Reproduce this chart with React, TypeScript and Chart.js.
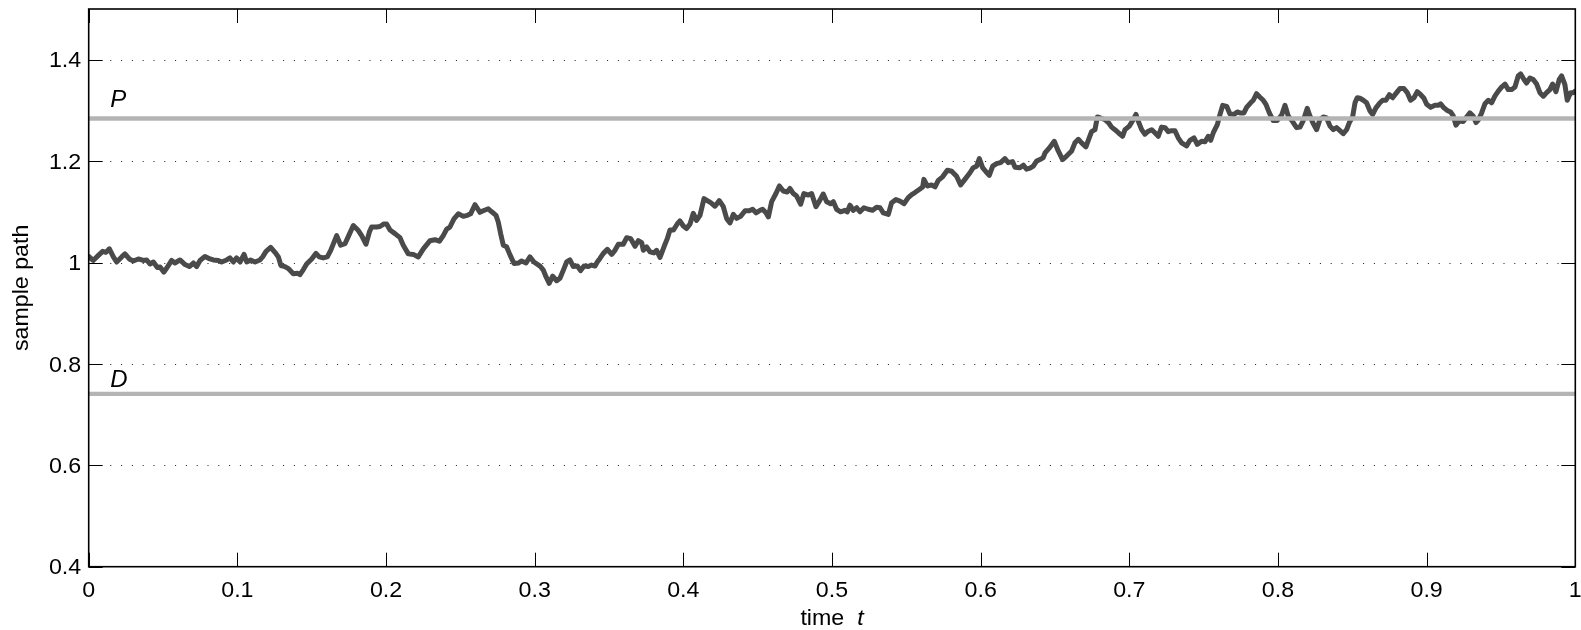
import React, { useEffect, useRef } from "react";
import { Chart, registerables } from "chart.js";

Chart.register(...registerables);

// ---- data ----
const xTicks = [0, 0.1, 0.2, 0.3, 0.4, 0.5, 0.6, 0.7, 0.8, 0.9, 1];
const xTickLabels = ["0", "0.1", "0.2", "0.3", "0.4", "0.5", "0.6", "0.7", "0.8", "0.9", "1"];
const yTicks = [0.4, 0.6, 0.8, 1, 1.2, 1.4];
const yTickLabels = ["0.4", "0.6", "0.8", "1", "1.2", "1.4"];
const yGridValues = [0.6, 0.8, 1, 1.2, 1.4];

const levelP = 1.284;
const levelD = 0.741;
const levelLabels = ["P", "D"];
const levelLabelX = [0.0145, 0.0145];
const levelLabelY = [1.3067, 0.755];

const xTitle = "time";
const xTitleVar = "t";
const yTitle = "sample path";

const pathTime = [
  0.0, 0.003, 0.0065, 0.0094, 0.0116, 0.0139, 0.0166, 0.0188, 0.0222, 0.0244,
  0.0273, 0.03, 0.0334, 0.0367, 0.039, 0.0412, 0.0435, 0.0462, 0.048, 0.0506,
  0.0529, 0.0558, 0.058, 0.0614, 0.0648, 0.0677, 0.0704, 0.0726, 0.0749, 0.0782,
  0.0816, 0.0838, 0.0872, 0.0894, 0.0928, 0.095, 0.0973, 0.0995, 0.1018, 0.1045,
  0.1063, 0.1089, 0.1119, 0.1152, 0.117, 0.1193, 0.1224, 0.1253, 0.1276, 0.1293,
  0.132, 0.1343, 0.1376, 0.1403, 0.1421, 0.1444, 0.1466, 0.15, 0.1529, 0.1551,
  0.1578, 0.1605, 0.1628, 0.1668, 0.1695, 0.1724, 0.1746, 0.178, 0.1814, 0.1836,
  0.1865, 0.1888, 0.1903, 0.1937, 0.1959, 0.1986, 0.2004, 0.2027, 0.206, 0.2094,
  0.2116, 0.215, 0.2184, 0.2217, 0.2251, 0.2296, 0.2329, 0.2359, 0.2385, 0.2408,
  0.243, 0.2457, 0.2486, 0.252, 0.2547, 0.2569, 0.2598, 0.2632,
  0.2654, 0.2688, 0.2711, 0.274, 0.2755, 0.2771, 0.2789, 0.2811, 0.2834, 0.2861,
  0.289, 0.2912, 0.2942, 0.2968, 0.2995, 0.3036, 0.3058, 0.3076, 0.3098, 0.3121,
  0.3148, 0.317, 0.3193, 0.3215, 0.3237, 0.326, 0.3287, 0.3309, 0.3332, 0.3361,
  0.3383, 0.3406, 0.3421, 0.3439, 0.3462, 0.3489, 0.3518, 0.354, 0.3563, 0.3596,
  0.3619, 0.3646, 0.3675, 0.3697, 0.372, 0.3731, 0.3753, 0.3776, 0.3802, 0.382,
  0.3843, 0.387, 0.3892, 0.391, 0.3933, 0.3959, 0.3977, 0.4, 0.4022, 0.4045,
  0.4067, 0.4089, 0.4112, 0.4139, 0.4161, 0.4184, 0.4213, 0.4242, 0.4269, 0.4291,
  0.4314, 0.4336, 0.4359, 0.4385, 0.4415, 0.4444, 0.4466, 0.4489, 0.4511, 0.4533,
  0.4556, 0.4572, 0.4594, 0.4623, 0.4646, 0.4672, 0.4699, 0.4717, 0.474, 0.4762,
  0.4789, 0.4811, 0.4841, 0.4863, 0.4892, 0.4919, 0.4941, 0.4964, 0.4991, 0.5009,
  0.5031, 0.5058, 0.5087, 0.5103, 0.5121, 0.5143, 0.5166, 0.5188,
  0.5215, 0.5244, 0.5273, 0.53, 0.5323, 0.5345, 0.5379, 0.5401, 0.543, 0.5457,
  0.5484, 0.5513, 0.5536, 0.5558, 0.5587, 0.561, 0.5618, 0.5641, 0.567, 0.5693,
  0.5715, 0.5744, 0.5776, 0.5805, 0.5838, 0.5865, 0.5894, 0.5928, 0.595, 0.5973,
  0.5991, 0.6013, 0.6036, 0.6058, 0.6081, 0.6107, 0.6134, 0.6163, 0.6186, 0.6215,
  0.6231, 0.6264, 0.6287, 0.6309, 0.6332, 0.6354, 0.6376, 0.6399, 0.6421, 0.6433,
  0.6462, 0.6495, 0.6522, 0.6551, 0.6578, 0.6612, 0.6634, 0.6657, 0.6679, 0.6708,
  0.6724, 0.6746, 0.6769, 0.6785, 0.6807, 0.6836, 0.6859, 0.6881, 0.6903, 0.6926,
  0.6955, 0.6971, 0.7, 0.7027, 0.7045, 0.706, 0.7083, 0.7105, 0.7128, 0.715,
  0.7172, 0.7195, 0.7217, 0.724, 0.7262, 0.7285, 0.7307, 0.7329, 0.7352, 0.7385,
  0.7408, 0.7435, 0.7457, 0.7486, 0.7509, 0.7531, 0.7547, 0.7565, 0.7592, 0.761,
  0.7628, 0.7655, 0.7677, 0.7704, 0.7726, 0.7744,
  0.7771, 0.7789, 0.7816, 0.7834, 0.7856, 0.7879, 0.7901, 0.7919, 0.7942, 0.7968,
  0.7995, 0.8025, 0.8047, 0.8069, 0.8098, 0.8125, 0.8148, 0.817, 0.8197, 0.8215,
  0.8237, 0.826, 0.8282, 0.8305, 0.8327, 0.835, 0.8372, 0.8394, 0.8417, 0.8439,
  0.8462, 0.848, 0.8502, 0.8518, 0.8533, 0.8551, 0.8574, 0.8596, 0.8619, 0.8637,
  0.8659, 0.8686, 0.8704, 0.8726, 0.8749, 0.8771, 0.8798, 0.882, 0.8847, 0.887,
  0.8892, 0.8915, 0.8937, 0.896, 0.8982, 0.9, 0.9027, 0.9056, 0.9078, 0.9094,
  0.9116, 0.9139, 0.9161, 0.9179, 0.9197, 0.9219, 0.9246, 0.9269, 0.9291, 0.9313,
  0.9332, 0.935, 0.937, 0.9392, 0.9415, 0.9437, 0.9459, 0.9482, 0.9504, 0.9527,
  0.9549, 0.9572, 0.9594, 0.9616, 0.9632, 0.9655, 0.9672, 0.9695, 0.9717, 0.974,
  0.9762, 0.9785, 0.9807, 0.9829, 0.9847, 0.987, 0.9892, 0.9908, 0.993, 0.9946,
  0.9968, 0.9986, 1.0,
];

const pathValue = [
  1.012, 1.004, 1.014, 1.022, 1.02, 1.027, 1.011, 1.001, 1.011, 1.017,
  1.007, 1.003, 1.007, 1.004, 1.005, 0.997, 1.001, 0.99, 0.991, 0.981,
  0.991, 1.004, 0.999, 1.005, 0.996, 0.992, 0.999, 0.992, 1.004, 1.012,
  1.007, 1.005, 1.004, 1.001, 1.005, 1.009, 1.001, 1.009, 1.001, 1.016,
  1.001, 1.005, 1.001, 1.005, 1.011, 1.022, 1.03, 1.02, 1.011, 0.994,
  0.992, 0.988, 0.978, 0.979, 0.976, 0.986, 0.997, 1.007, 1.018, 1.011,
  1.009, 1.011, 1.024, 1.053, 1.034, 1.037, 1.051, 1.073, 1.063, 1.053,
  1.036, 1.06, 1.07, 1.07, 1.071, 1.076, 1.076, 1.064, 1.057, 1.049,
  1.034, 1.017, 1.016, 1.011, 1.027, 1.043, 1.045, 1.042, 1.053, 1.066,
  1.07, 1.086, 1.096, 1.091, 1.093, 1.096, 1.114, 1.099,
  1.102, 1.106, 1.1, 1.093, 1.08, 1.057, 1.034, 1.031, 1.015, 0.998,
  0.999, 1.003, 0.999, 1.011, 1.001, 0.993, 0.985, 0.972, 0.959, 0.973,
  0.964, 0.969, 0.985, 1.001, 1.005, 0.992, 0.993, 0.984, 0.993, 0.992,
  0.995, 0.993, 1.001, 1.008, 1.018, 1.026, 1.016, 1.024, 1.036, 1.036,
  1.049, 1.047, 1.032, 1.043, 1.039, 1.024, 1.031, 1.021, 1.019, 1.024,
  1.01, 1.031, 1.047, 1.064, 1.064, 1.076, 1.082, 1.072, 1.067, 1.076,
  1.097, 1.083, 1.093, 1.126, 1.122, 1.118, 1.111, 1.122, 1.11, 1.087,
  1.078, 1.095, 1.087, 1.091, 1.102, 1.102, 1.105, 1.098, 1.102, 1.105,
  1.098, 1.09, 1.12, 1.136, 1.151, 1.141, 1.139, 1.146, 1.136, 1.131,
  1.115, 1.136, 1.133, 1.136, 1.11, 1.123, 1.135, 1.12, 1.116, 1.12,
  1.105, 1.1, 1.103, 1.1, 1.113, 1.103, 1.108, 1.1,
  1.108, 1.105, 1.103, 1.109, 1.108, 1.098, 1.095, 1.118, 1.124, 1.121,
  1.116, 1.128, 1.134, 1.138, 1.144, 1.149, 1.164, 1.151, 1.153, 1.149,
  1.162, 1.169, 1.182, 1.18, 1.17, 1.153, 1.164, 1.177, 1.187, 1.19,
  1.205, 1.187, 1.179, 1.172, 1.19, 1.195, 1.197, 1.205, 1.197, 1.199,
  1.188, 1.187, 1.192, 1.184, 1.186, 1.19, 1.2, 1.203, 1.207, 1.216,
  1.226, 1.239, 1.22, 1.203, 1.21, 1.22, 1.236, 1.243, 1.236, 1.228,
  1.241, 1.258, 1.262, 1.287, 1.285, 1.282, 1.276, 1.267, 1.262, 1.256,
  1.249, 1.262, 1.269, 1.282, 1.292, 1.279, 1.262, 1.253, 1.259, 1.262,
  1.256, 1.249, 1.267, 1.266, 1.258, 1.26, 1.26, 1.246, 1.236, 1.23,
  1.241, 1.246, 1.233, 1.239, 1.238, 1.249, 1.241, 1.256, 1.272, 1.292,
  1.31, 1.308, 1.293, 1.292, 1.297, 1.295,
  1.295, 1.306, 1.315, 1.32, 1.333, 1.326, 1.32, 1.312, 1.295, 1.28,
  1.28, 1.291, 1.31, 1.289, 1.278, 1.266, 1.267, 1.28, 1.304, 1.289,
  1.274, 1.262, 1.282, 1.287, 1.285, 1.269, 1.262, 1.266, 1.26, 1.254,
  1.262, 1.276, 1.287, 1.315, 1.325, 1.324, 1.32, 1.315, 1.299, 1.292,
  1.305, 1.315, 1.32, 1.32, 1.331, 1.325, 1.335, 1.343, 1.343, 1.335,
  1.32, 1.325, 1.337, 1.331, 1.324, 1.312, 1.306, 1.31, 1.31, 1.313,
  1.305, 1.3, 1.297, 1.289, 1.271, 1.279, 1.278, 1.287, 1.295, 1.289,
  1.276, 1.282, 1.295, 1.313, 1.32, 1.315, 1.328, 1.338, 1.346, 1.352,
  1.341, 1.341, 1.346, 1.368, 1.372, 1.361, 1.354, 1.364, 1.361, 1.352,
  1.335, 1.328, 1.335, 1.341, 1.352, 1.337, 1.361, 1.368, 1.351, 1.32,
  1.335, 1.335, 1.338,
];

// ---- styling ----
const FONT_FAMILY = '"Liberation Sans", Arial, Helvetica, sans-serif';
const TEXT_SIZE = 21.5;
const TEXT_STRETCH = 1.08;

function stretchedText(
  ctx: CanvasRenderingContext2D,
  text: string,
  x: number,
  y: number,
  align: CanvasTextAlign,
  font: string,
  stretch: number
) {
  ctx.save();
  ctx.translate(x, y);
  ctx.scale(stretch, 1);
  ctx.font = font;
  ctx.textAlign = align;
  ctx.textBaseline = "alphabetic";
  ctx.fillStyle = "#000";
  ctx.fillText(text, 0, 0);
  ctx.restore();
}

const decorPlugin = {
  id: "decor",
  beforeDatasetsDraw(chart: any) {
    const { ctx, chartArea: a, scales } = chart;
    const y = scales.y;
    ctx.save();
    ctx.strokeStyle = "#1a1a1a";
    ctx.lineWidth = 1;
    ctx.setLineDash([1, 9.8]);
    for (const v of yGridValues) {
      const py = Math.round(y.getPixelForValue(v)) + 0.5;
      ctx.beginPath();
      ctx.moveTo(a.left, py);
      ctx.lineTo(a.right, py);
      ctx.stroke();
    }
    ctx.restore();
  },
  afterDatasetsDraw(chart: any) {
    const { ctx, scales } = chart;
    for (let i = 0; i < levelLabels.length; i++) {
      const px = scales.x.getPixelForValue(levelLabelX[i]);
      const py = scales.y.getPixelForValue(levelLabelY[i]);
      stretchedText(ctx, levelLabels[i], px, py, "left", `italic 24px ${FONT_FAMILY}`, 1.0);
    }
  },
  afterDraw(chart: any) {
    const { ctx, chartArea: a, scales } = chart;
    const x = scales.x;
    const y = scales.y;
    const tickLen = 14;
    ctx.save();
    ctx.strokeStyle = "#000";
    ctx.lineWidth = 1;
    ctx.setLineDash([]);
    ctx.beginPath();
    for (const v of xTicks) {
      const px = Math.round(x.getPixelForValue(v)) + 0.5;
      ctx.moveTo(px, a.bottom);
      ctx.lineTo(px, a.bottom - tickLen);
      ctx.moveTo(px, a.top);
      ctx.lineTo(px, a.top + tickLen);
    }
    for (const v of yTicks) {
      const py = Math.round(y.getPixelForValue(v)) + 0.5;
      ctx.moveTo(a.left, py);
      ctx.lineTo(a.left + tickLen, py);
      ctx.moveTo(a.right, py);
      ctx.lineTo(a.right - tickLen, py);
    }
    ctx.stroke();
    ctx.lineWidth = 1.6;
    ctx.strokeRect(a.left, a.top, a.right - a.left, a.bottom - a.top);
    ctx.restore();

    const tickFont = `${TEXT_SIZE}px ${FONT_FAMILY}`;
    const italicFont = `italic ${TEXT_SIZE}px ${FONT_FAMILY}`;
    xTicks.forEach((v, i) => {
      const px = x.getPixelForValue(v);
      stretchedText(ctx, xTickLabels[i], px, a.bottom + 30.3, "center", tickFont, TEXT_STRETCH);
    });
    yTicks.forEach((v, i) => {
      const py = y.getPixelForValue(v);
      stretchedText(ctx, yTickLabels[i], a.left - 7.5, py + 7.6, "right", tickFont, TEXT_STRETCH);
    });

    ctx.save();
    ctx.font = tickFont;
    const wMain = ctx.measureText(xTitle + "  ").width * TEXT_STRETCH;
    ctx.font = italicFont;
    const wVar = ctx.measureText(xTitleVar).width * TEXT_STRETCH;
    ctx.restore();
    const cx = (a.left + a.right) / 2;
    const start = cx - (wMain + wVar) / 2;
    stretchedText(ctx, xTitle, start, a.bottom + 58, "left", tickFont, TEXT_STRETCH);
    stretchedText(ctx, xTitleVar, start + wMain, a.bottom + 58, "left", italicFont, TEXT_STRETCH);

    const cy = (a.top + a.bottom) / 2;
    ctx.save();
    ctx.translate(28, cy);
    ctx.rotate(-Math.PI / 2);
    ctx.scale(TEXT_STRETCH, 1);
    ctx.font = tickFont;
    ctx.textAlign = "center";
    ctx.textBaseline = "alphabetic";
    ctx.fillStyle = "#000";
    ctx.fillText(yTitle, 0, 0);
    ctx.restore();
  },
};

export default function App() {
  const canvasRef = useRef<HTMLCanvasElement | null>(null);

  useEffect(() => {
    const canvas = canvasRef.current;
    if (!canvas) return;
    const pathData = pathTime.map((t, i) => ({ x: t, y: pathValue[i] }));
    const pData = [
      { x: 0, y: levelP },
      { x: 1, y: levelP },
    ];
    const dData = [
      { x: 0, y: levelD },
      { x: 1, y: levelD },
    ];
    const chart = new Chart(canvas, {
      type: "scatter",
      data: {
        datasets: [
          {
            label: "P",
            data: pData,
            showLine: true,
            borderColor: "#b4b4b4",
            borderWidth: 4.3,
            pointRadius: 0,
            order: 0,
          },
          {
            label: "D",
            data: dData,
            showLine: true,
            borderColor: "#b4b4b4",
            borderWidth: 4.3,
            pointRadius: 0,
            order: 0,
          },
          {
            label: "sample path",
            data: pathData,
            showLine: true,
            borderColor: "#4a4a4a",
            borderWidth: 5,
            borderJoinStyle: "round",
            borderCapStyle: "round",
            pointRadius: 0,
            tension: 0,
            order: 1,
          },
        ],
      },
      options: {
        responsive: false,
        animation: false,
        devicePixelRatio: 1,
        layout: { padding: { left: 88.7, right: 5.7, top: 9, bottom: 63.3 } },
        scales: {
          x: { type: "linear", min: 0, max: 1, display: false },
          y: { type: "linear", min: 0.4, max: 1.5, display: false },
        },
        plugins: {
          legend: { display: false },
          tooltip: { enabled: false },
        },
      },
      plugins: [decorPlugin],
    } as any);
    return () => chart.destroy();
  }, []);

  return (
    <div
      style={{
        position: "absolute",
        left: 0,
        top: 0,
        width: 1581,
        height: 630,
        background: "#fff",
      }}
    >
      <canvas ref={canvasRef} width={1581} height={630} style={{ display: "block" }} />
    </div>
  );
}
